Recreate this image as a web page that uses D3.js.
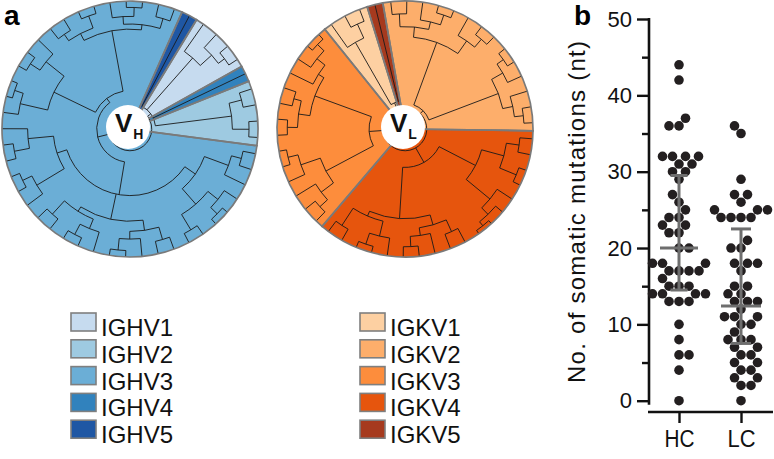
<!DOCTYPE html>
<html><head><meta charset="utf-8">
<script src="https://cdn.jsdelivr.net/npm/d3@7"></script>
<style>body{margin:0;background:#fff}svg{display:block}text{font-family:"Liberation Sans",Arial,Helvetica,sans-serif}</style>
</head><body><svg id="c" width="774" height="459"></svg>
<script>
// ---------- data ----------
const hcFamilies = ["IGHV1","IGHV2","IGHV3","IGHV4","IGHV5"];
const hcColors   = ["#c6dbef","#9ecae1","#6baed6","#3182bd","#1f57a4"];
const lcFamilies = ["IGKV1","IGKV2","IGKV3","IGKV4","IGKV5"];
const lcColors   = ["#fdd0a2","#fdae6b","#fd8d3c","#e6550d","#a63a1e"];

// dendrograms: [nodeRadiusFraction, ...children]; leaves are family names
const vhTree = [0.17,
  [0.2, "IGHV5", [0.74, "IGHV1", [0.86, "IGHV1", [0.92, "IGHV1", "IGHV1"]]], "IGHV4",
        [0.8, [0.9, "IGHV2", "IGHV2"], [0.93, "IGHV2", "IGHV2"]]],
  [0.26,
    [0.52,
      [0.62, [0.82, [0.9, "IGHV3", "IGHV3"], "IGHV3"], [0.78, [0.88, "IGHV3", [0.95, "IGHV3", "IGHV3"]], [0.92, "IGHV3", "IGHV3"]]],
      [0.72, [0.8, [0.9, "IGHV3", "IGHV3"], [0.86, "IGHV3", [0.95, "IGHV3", "IGHV3"]]], [0.76, [0.84, "IGHV3", [0.93, "IGHV3", "IGHV3"]], [0.9, "IGHV3", "IGHV3"]]],
      [0.6, [0.85, "IGHV3", [0.93, "IGHV3", "IGHV3"]], [0.8, [0.92, "IGHV3", "IGHV3"], "IGHV3"]]
    ],
    [0.3,
      [0.66, [0.88, "IGHV3", [0.95, "IGHV3", "IGHV3"]], [0.84, [0.93, "IGHV3", "IGHV3"], "IGHV3"]],
      [0.78, [0.84, [0.9, "IGHV3", "IGHV3"], [0.94, "IGHV3", "IGHV3"]], [0.82, [0.88, "IGHV3", [0.95, "IGHV3", "IGHV3"]], [0.9, "IGHV3", "IGHV3"]]]
    ]
  ]
];
const vlTree = [0.17,
  [0.2,
    [0.72, [0.8, [0.9, "IGKV2", "IGKV2"], [0.86, "IGKV2", [0.94, "IGKV2", "IGKV2"]]], [0.84, "IGKV2", [0.92, "IGKV2", "IGKV2"]]],
    [0.78, [0.88, [0.94, "IGKV2", "IGKV2"], "IGKV2"], [0.86, "IGKV2", [0.93, "IGKV2", "IGKV2"]]]
  ],
  [0.3,
    [0.62, [0.8, [0.9, "IGKV4", "IGKV4"], [0.94, "IGKV4", "IGKV4"]], [0.86, "IGKV4", [0.93, "IGKV4", [0.97, "IGKV4", "IGKV4"]]]],
    [0.7, [0.78, [0.88, "IGKV4", "IGKV4"], [0.84, "IGKV4", [0.92, "IGKV4", "IGKV4"]]], [0.74, [0.86, "IGKV4", [0.95, "IGKV4", "IGKV4"]], [0.9, "IGKV4", "IGKV4"]]]
  ],
  [0.28,
    [0.7, [0.82, [0.9, "IGKV3", "IGKV3"], "IGKV3"], [0.86, "IGKV3", [0.94, "IGKV3", "IGKV3"]]],
    [0.75, [0.84, [0.92, "IGKV3", "IGKV3"], [0.9, "IGKV3", "IGKV3"]], [0.8, "IGKV3", [0.88, "IGKV3", [0.95, "IGKV3", "IGKV3"]]]]
  ],
  [0.22, [0.78, "IGKV1", [0.9, "IGKV1", "IGKV1"]], "IGKV5"]
];

const groups = ["HC", "LC"];
const hcMutations = [44,42,37,36,36,32,32,32,32,31,31,30,30,29,27,26,25,24,24,23,23,22,22,20,20,18,18,18,17,17,17,17,16,15,15,15,14,14,14,14,13,13,13,10,8,6,6,4,0];
const lcMutations = [36,35,29,27,27,26,25,25,25,24,24,24,24,21,20,20,18,18,18,17,15,15,14,14,13,13,13,12,11,11,11,10,10,9,8,8,8,7,7,6,6,5,5,4,4,3,3,2,2,0];
const medians = [20, 12.4];
const lowerQ  = [14.5, 7.5];
const upperQ  = [29.5, 22.5];
const yTicks = [0,10,20,30,40,50];
const yMinorTicks = [5,15,25,35,45];

// ---------- drawing ----------
const svg = d3.select("#c");
const toRad = d => d * Math.PI / 180;

function drawDendro(cx, cy, tree, families, colors, startDeg, label, sub) {
  const R = 128, r0 = 22;
  const g = svg.append("g").attr("transform", `translate(${cx},${cy})`);
  const root = d3.hierarchy(tree, d => Array.isArray(d) ? d.slice(1) : null);
  d3.cluster().size([360, 1]).separation(() => 1)(root);
  const leaves = root.leaves();
  const step = 360 / leaves.length;
  root.each(n => { n.ang = n.x + startDeg; n.rad = (Array.isArray(n.data) ? n.data[0] : 1) * R; });
  const arc = d3.arc();
  const wedges = families.map((f, i) => {
    const ls = leaves.filter(l => l.data === f);
    return {innerRadius: 0, outerRadius: R,
      startAngle: toRad(d3.min(ls, l => l.ang) - step / 2),
      endAngle: toRad(d3.max(ls, l => l.ang) + step / 2), color: colors[i]};
  });
  g.selectAll("path.w").data(wedges).join("path").attr("class", "w")
    .attr("d", arc).attr("fill", d => d.color);
  const pt = (a, r) => [r * Math.sin(toRad(a)), -r * Math.cos(toRad(a))];
  const p = d3.path();
  root.descendants().forEach(n => {
    if (n.parent) {
      const [x1, y1] = pt(n.ang, n.parent.rad), [x2, y2] = pt(n.ang, n.rad);
      p.moveTo(x1, y1); p.lineTo(x2, y2);
    }
    if (n.children) {
      const a0 = d3.min(n.children, c => c.ang), a1 = d3.max(n.children, c => c.ang);
      const [sx, sy] = pt(a0, n.rad);
      p.moveTo(sx, sy); p.arc(0, 0, n.rad, toRad(a0 - 90), toRad(a1 - 90));
    }
  });
  g.append("path").attr("d", p.toString()).attr("fill", "none").attr("stroke", "#1a1a1a").attr("stroke-width", 0.9);
  g.selectAll("path.ws").data(wedges).join("path").attr("class", "ws")
    .attr("d", arc).attr("fill", "none").attr("stroke", "#7a7a7a").attr("stroke-width", 1.7);
  g.append("circle").attr("cx", -2).attr("cy", -2).attr("r", r0).attr("fill", "#fff");
  const t = g.append("text").attr("x", -15).attr("y", 3).attr("font-weight", "bold").attr("font-size", 26).attr("fill", "#111");
  t.append("tspan").text(label);
  t.append("tspan").attr("dy", 7).attr("dx", 1).attr("font-size", 14).text(sub);
}

drawDendro(130, 129, vhTree, hcFamilies, hcColors, 24, "V", "H");
drawDendro(405, 129, vlTree, lcFamilies, lcColors, -10, "V", "L");

svg.append("text").attr("x", 4).attr("y", 25).attr("font-weight", "bold").attr("font-size", 28).text("a");
svg.append("text").attr("x", 574).attr("y", 25).attr("font-weight", "bold").attr("font-size", 28).text("b");

// legends
function legend(x0, fams, cols) {
  const g = svg.append("g");
  const yRow = d3.scaleLinear().domain([0, 1]).range([313, 339.8]);
  fams.forEach((f, i) => {
    g.append("rect").attr("x", x0).attr("y", yRow(i)).attr("width", 25).attr("height", 18)
      .attr("fill", cols[i]).attr("stroke", "#7f7f7f").attr("stroke-width", 1.6);
    g.append("text").attr("x", x0 + 30).attr("y", yRow(i) + 23).attr("font-size", 24).attr("fill", "#111").text(f);
  });
}
legend(71, hcFamilies, hcColors);
legend(360, lcFamilies, lcColors);

// scatter panel
const y = d3.scaleLinear().domain([0, 50]).range([400.7, 19]);
const x = d3.scalePoint().domain(groups).range([679, 741]);
const axG = svg.append("g").attr("transform", "translate(649,0)");
axG.call(d3.axisLeft(y).tickValues(yTicks).tickSize(12).tickPadding(5).tickSizeOuter(0))
  .call(g => g.select(".domain").remove());
axG.selectAll(".tick line").attr("stroke", "#111").attr("stroke-width", 2.4);
axG.selectAll(".tick text").attr("font-size", 22).attr("fill", "#111").attr("font-family", null);
axG.append("g").call(d3.axisLeft(y).tickValues(yMinorTicks).tickSize(7).tickFormat(""))
  .call(g => g.select(".domain").remove())
  .selectAll(".tick line").attr("stroke", "#111").attr("stroke-width", 2.4);
axG.append("line").attr("y1", y(50) - 1).attr("y2", y(0) + 4).attr("stroke", "#111").attr("stroke-width", 2.6);

const xAx = svg.append("g").attr("transform", "translate(0,412)");
xAx.call(d3.axisBottom(x).tickSize(11).tickPadding(8).tickSizeOuter(0))
  .call(g => g.select(".domain").attr("d", "M648,0H773").attr("stroke", "#111").attr("stroke-width", 2.6));
xAx.selectAll(".tick line").attr("stroke", "#111").attr("stroke-width", 2.4);
xAx.selectAll(".tick text").attr("font-size", 23).attr("fill", "#111").attr("font-family", null)
  .attr("textLength", d => d === "HC" ? 30 : 28).attr("lengthAdjust", "spacingAndGlyphs");

svg.append("text").attr("transform", "translate(585,212) rotate(-90)").attr("text-anchor", "middle")
  .attr("font-size", 24).attr("fill", "#111").attr("textLength", 342).attr("lengthAdjust", "spacing")
  .text("No. of somatic mutations (nt)");

// beeswarm
const dotR = 4.8;
function swarm(values, cxp) {
  const placed = [];
  const sorted = values.slice().sort((a, b) => a - b);
  let flip = 1;
  sorted.forEach(v => {
    const py = y(v);
    let off = null;
    for (let k = 0; k < 400 && off === null; k++) {
      const cands = k === 0 ? [0] : [flip * k * 0.5, -flip * k * 0.5];
      for (const c of cands) {
        if (placed.every(p => Math.hypot(p.x - (cxp + c), p.y - py) >= 2 * dotR + 0.3)) { off = c; break; }
      }
    }
    if (off !== 0) flip = -Math.sign(off);
    placed.push({x: cxp + off, y: py});
  });
  return placed;
}
groups.forEach((gname, gi) => {
  const pts = swarm(gi === 0 ? hcMutations : lcMutations, x(gname));
  svg.append("g").selectAll("circle").data(pts).join("circle")
    .attr("cx", d => d.x).attr("cy", d => d.y).attr("r", dotR).attr("fill", "#231f20");
  const cxp = x(gname), eb = svg.append("g").attr("stroke", "#6e6e6e").attr("stroke-width", 3);
  const mw = gi === 0 ? 19 : 20, cw = gi === 0 ? 8.5 : 10;
  eb.append("line").attr("x1", cxp).attr("x2", cxp).attr("y1", y(upperQ[gi])).attr("y2", y(lowerQ[gi]));
  eb.append("line").attr("x1", cxp - mw).attr("x2", cxp + mw).attr("y1", y(medians[gi])).attr("y2", y(medians[gi]));
  eb.append("line").attr("x1", cxp - cw).attr("x2", cxp + cw).attr("y1", y(upperQ[gi])).attr("y2", y(upperQ[gi]));
  eb.append("line").attr("x1", cxp - cw).attr("x2", cxp + cw).attr("y1", y(lowerQ[gi])).attr("y2", y(lowerQ[gi]));
});
</script></body></html>
